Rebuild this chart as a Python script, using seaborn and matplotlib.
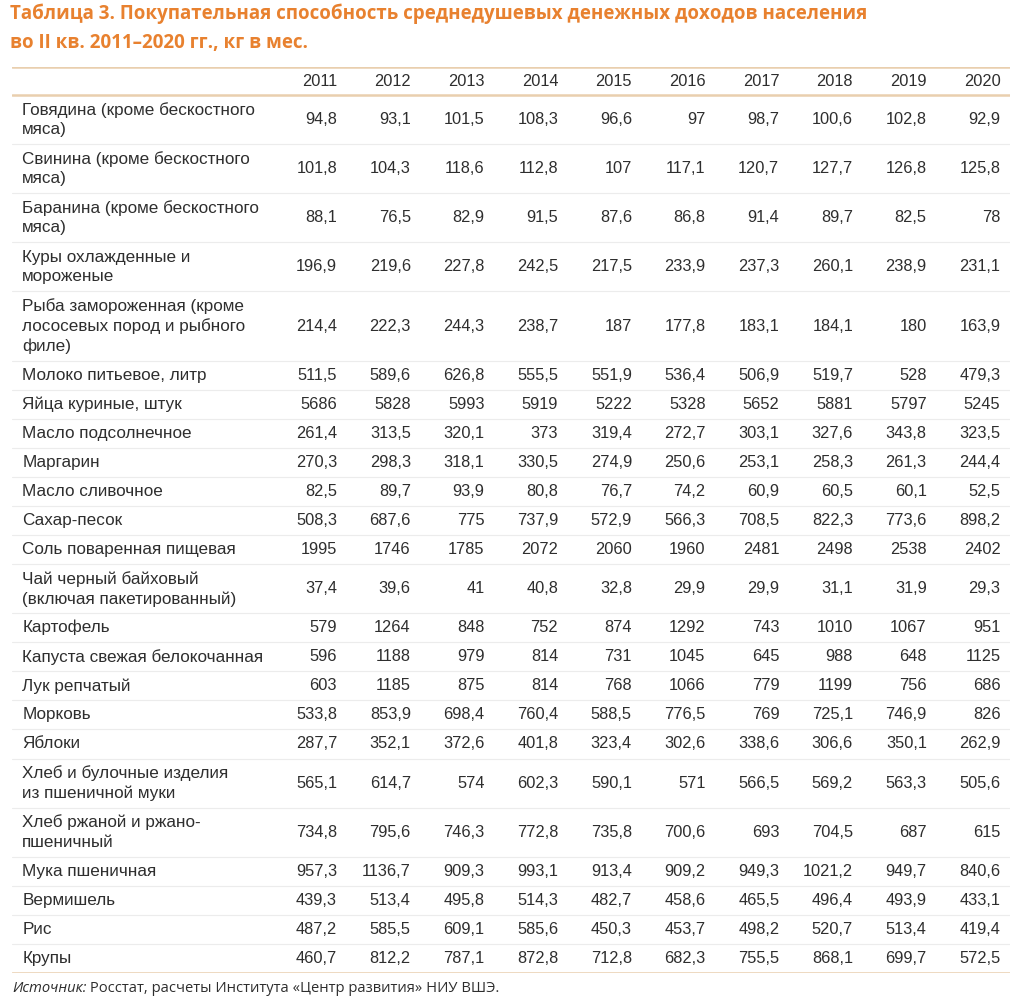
import pandas as pd
import matplotlib.pyplot as plt
import seaborn as sns

# table data
years = [2011, 2012, 2013, 2014, 2015, 2016, 2017, 2018, 2019, 2020]
products = [
    "Говядина (кроме бескостного\nмяса)",
    "Свинина (кроме бескостного\nмяса)",
    "Баранина (кроме бескостного\nмяса)",
    "Куры охлажденные и\nмороженые",
    "Рыба замороженная (кроме\nлососевых пород и рыбного\nфиле)",
    "Молоко питьевое, литр",
    "Яйца куриные, штук",
    "Масло подсолнечное",
    "Маргарин",
    "Масло сливочное",
    "Сахар-песок",
    "Соль поваренная пищевая",
    "Чай черный байховый\n(включая пакетированный)",
    "Картофель",
    "Капуста свежая белокочанная",
    "Лук репчатый",
    "Морковь",
    "Яблоки",
    "Хлеб и булочные изделия\nиз пшеничной муки",
    "Хлеб ржаной и ржано-\nпшеничный",
    "Мука пшеничная",
    "Вермишель",
    "Рис",
    "Крупы",
]
values = [
    [94.8, 93.1, 101.5, 108.3, 96.6, 97, 98.7, 100.6, 102.8, 92.9],
    [101.8, 104.3, 118.6, 112.8, 107, 117.1, 120.7, 127.7, 126.8, 125.8],
    [88.1, 76.5, 82.9, 91.5, 87.6, 86.8, 91.4, 89.7, 82.5, 78],
    [196.9, 219.6, 227.8, 242.5, 217.5, 233.9, 237.3, 260.1, 238.9, 231.1],
    [214.4, 222.3, 244.3, 238.7, 187, 177.8, 183.1, 184.1, 180, 163.9],
    [511.5, 589.6, 626.8, 555.5, 551.9, 536.4, 506.9, 519.7, 528, 479.3],
    [5686, 5828, 5993, 5919, 5222, 5328, 5652, 5881, 5797, 5245],
    [261.4, 313.5, 320.1, 373, 319.4, 272.7, 303.1, 327.6, 343.8, 323.5],
    [270.3, 298.3, 318.1, 330.5, 274.9, 250.6, 253.1, 258.3, 261.3, 244.4],
    [82.5, 89.7, 93.9, 80.8, 76.7, 74.2, 60.9, 60.5, 60.1, 52.5],
    [508.3, 687.6, 775, 737.9, 572.9, 566.3, 708.5, 822.3, 773.6, 898.2],
    [1995, 1746, 1785, 2072, 2060, 1960, 2481, 2498, 2538, 2402],
    [37.4, 39.6, 41, 40.8, 32.8, 29.9, 29.9, 31.1, 31.9, 29.3],
    [579, 1264, 848, 752, 874, 1292, 743, 1010, 1067, 951],
    [596, 1188, 979, 814, 731, 1045, 645, 988, 648, 1125],
    [603, 1185, 875, 814, 768, 1066, 779, 1199, 756, 686],
    [533.8, 853.9, 698.4, 760.4, 588.5, 776.5, 769, 725.1, 746.9, 826],
    [287.7, 352.1, 372.6, 401.8, 323.4, 302.6, 338.6, 306.6, 350.1, 262.9],
    [565.1, 614.7, 574, 602.3, 590.1, 571, 566.5, 569.2, 563.3, 505.6],
    [734.8, 795.6, 746.3, 772.8, 735.8, 700.6, 693, 704.5, 687, 615],
    [957.3, 1136.7, 909.3, 993.1, 913.4, 909.2, 949.3, 1021.2, 949.7, 840.6],
    [439.3, 513.4, 495.8, 514.3, 482.7, 458.6, 465.5, 496.4, 493.9, 433.1],
    [487.2, 585.5, 609.1, 585.6, 450.3, 453.7, 498.2, 520.7, 513.4, 419.4],
    [460.7, 812.2, 787.1, 872.8, 712.8, 682.3, 755.5, 868.1, 699.7, 572.5],
]

title = ("Таблица 3. Покупательная способность среднедушевых денежных доходов населения\n"
         "во II кв. 2011–2020 гг., кг в мес.")
source_head = "Источник:"
source_body = " Росстат, расчеты Института «Центр развития» НИУ ВШЭ."

df = pd.DataFrame(values, index=products, columns=years)

sns.set_theme(style="white")
plt.rcParams['font.family'] = ['Liberation Sans', 'DejaVu Sans']

W, H = 1032, 1001
fig = plt.figure(figsize=(W / 100, H / 100), dpi=100)
fig.patch.set_facecolor("white")

# table area: from header top line to bottom line
ax = fig.add_axes([12 / W, (H - 973) / H, (1010 - 12) / W, (973 - 67) / H])
ax.set_facecolor("white")

txt_color = "#2e2e2e"
rule_color = "#e9cfae"
sep_color = "#ececec"
fs = 11.8
fs_lbl = 12.3

header_h = 1.4
heights = [0.45 + lbl.count("\n") + 1 for lbl in df.index]
total = header_h + sum(heights)
ax.set_xlim(-4.41, 9.13)
ax.set_ylim(total, 0)
ax.axis("off")

# header
for j, yr in enumerate(df.columns):
    ax.text(j, header_h / 2, str(yr), ha="right", va="center",
            fontsize=fs, color=txt_color)
ax.axhline(0, color=rule_color, lw=1.8)
ax.axhline(header_h, color=rule_color, lw=1.8)

# body rows
y = header_h
for i, (lbl, row) in enumerate(df.iterrows()):
    h = heights[i]
    yc = y + h / 2
    ax.text(-4.27, yc, lbl, ha="left", va="center", fontsize=fs_lbl,
            color=txt_color, linespacing=1.36)
    for j, v in enumerate(row):
        ax.text(j, yc, f"{v:g}".replace(".", ","), ha="right", va="center",
                fontsize=fs, color=txt_color)
    y += h
    if i < len(df) - 1:
        ax.axhline(y, color=sep_color, lw=0.8)
ax.axhline(total, color=rule_color, lw=1.8)

# title and source
fig.text(10 / W, 1 - 4 / H, title, ha="left", va="top", fontsize=13.5,
         fontweight="bold", color="#e8812f", family=["Open Sans", "DejaVu Sans"],
         linespacing=1.55)
t1 = fig.text(12 / W, 1 - 988 / H, source_head, ha="left", va="center",
              fontsize=10.6, style="italic", color=txt_color,
              family=["Open Sans", "DejaVu Sans"])
fig.canvas.draw()
bb = t1.get_window_extent()
fig.text(bb.x1 / W, 1 - 988 / H, source_body, ha="left", va="center",
         fontsize=10.6, color=txt_color, family=["Open Sans", "DejaVu Sans"])

fig.savefig("out.png", dpi=100, facecolor="white")
